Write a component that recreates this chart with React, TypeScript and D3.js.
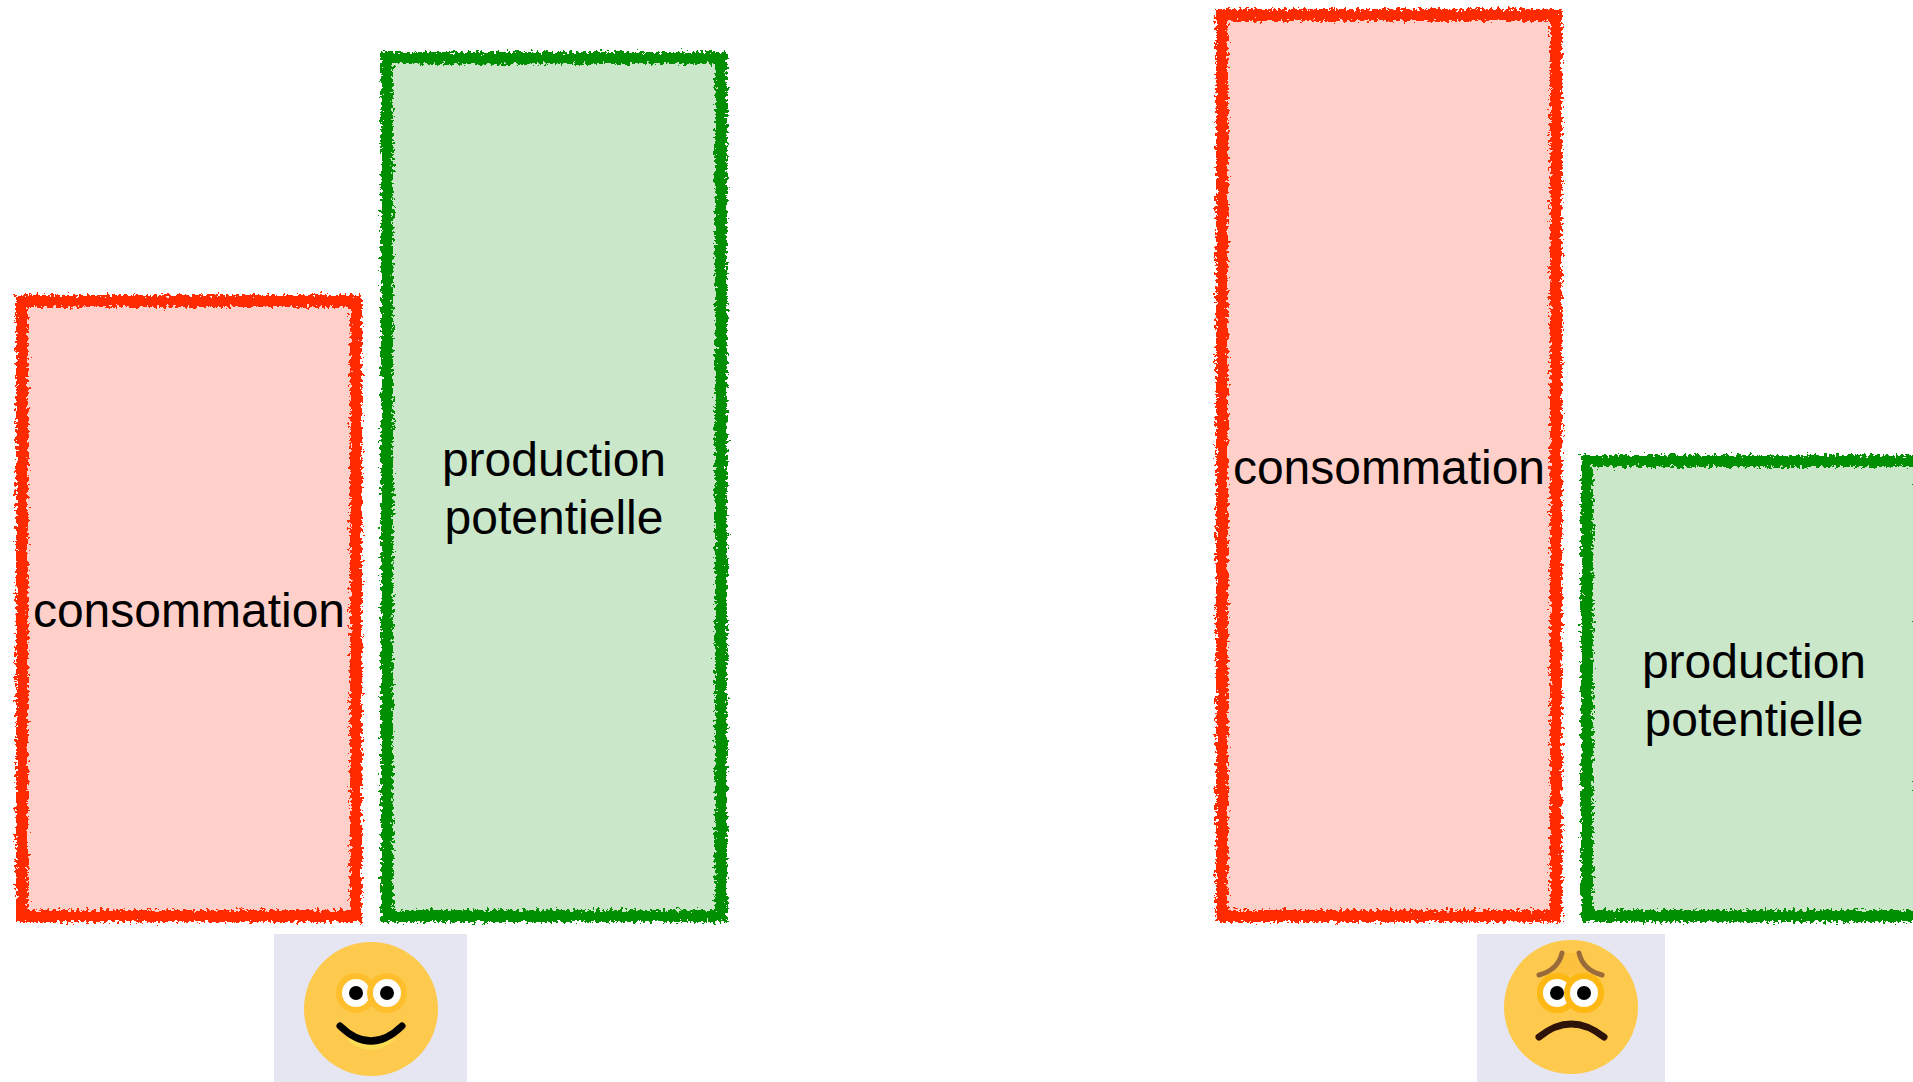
import React from 'react';
import * as d3 from 'd3';

const WIDTH = 1913;
const HEIGHT = 1082;

// the two situations and the two bars of each one
const situations = ['excédent', 'déficit'];
const seriesNames = ['consommation', 'production'];
const consommationValues = [627, 913];
const productionValues = [870, 467];
const seriesLabels = [['consommation'], ['production', 'potentielle']];

const seriesColors = {
  consommation: { stroke: '#ff2a00', fill: '#ffd0c9' },
  production: { stroke: '#008f00', fill: '#cbe7ca' },
};

const baseline = 922;
const borderWidth = 12;

const x0 = d3.scaleBand().domain(situations).range([16, 1927]).paddingInner(0.4075);
const x1 = d3.scaleBand().domain(seriesNames).range([0, x0.bandwidth()]).paddingInner(0.052);
const y = d3.scaleLinear().domain([0, 915]).range([baseline, 7]);

const bars = situations.flatMap((situation, i) => [
  { situation, series: 'consommation', value: consommationValues[i], labels: seriesLabels[0] },
  { situation, series: 'production', value: productionValues[i], labels: seriesLabels[1] },
]);

const Tile = ({ x, width }) => (
  <rect x={x} y={934} width={width} height={148} fill="#e6e6f2" />
);

const Eye = ({ cx, cy, halo }) => (
  <g>
    <circle cx={cx} cy={cy} r={20} fill={halo} />
    <circle cx={cx} cy={cy} r={14} fill="#ffffff" />
    <circle cx={cx} cy={cy} r={7} fill="#000000" />
  </g>
);

const HappyFace = () => (
  <g>
    <Tile x={274} width={193} />
    <circle cx={371} cy={1009} r={67} fill="#fdca4d" />
    <Eye cx={356} cy={993} halo="#ffbf2c" />
    <Eye cx={387} cy={993} halo="#ffbf2c" />
    <path d="M345,1038 Q371,1062 397,1038 Q371,1046 345,1038 Z" fill="#fbdc55" />
    <path d="M340,1026 Q371,1056 402,1026" fill="none" stroke="#000" strokeWidth={7} strokeLinecap="round" />
  </g>
);

const SadFace = () => (
  <g>
    <Tile x={1477} width={188} />
    <circle cx={1571} cy={1007} r={67} fill="#fdca4d" />
    <path d="M1544,975 Q1560,972 1562,953 L1580,953 Q1582,972 1598,975 Z" fill="#fbc13f" />
    <circle cx={1557} cy={993} r={20} fill="#fdb813" />
    <circle cx={1584} cy={993} r={20} fill="#fdb813" />
    <Eye cx={1557} cy={993} halo="#fdb813" />
    <Eye cx={1584} cy={993} halo="#fdb813" />
    <path d="M1539,975 Q1558,970 1562,953" fill="none" stroke="#9a6b3a" strokeWidth={5} strokeLinecap="round" />
    <path d="M1579,953 Q1583,970 1602,975" fill="none" stroke="#9a6b3a" strokeWidth={5} strokeLinecap="round" />
    <path d="M1539,1037 Q1571,1011 1604,1037" fill="none" stroke="#2e1408" strokeWidth={7} strokeLinecap="round" />
  </g>
);

export default function App() {
  return (
    <svg
      width={WIDTH}
      height={HEIGHT}
      viewBox={`0 0 ${WIDTH} ${HEIGHT}`}
      style={{ position: 'absolute', left: 0, top: 0, background: '#ffffff' }}
    >
      <defs>
        {/* chalky edge of the bar outlines */}
        <filter id="rough" x="-5%" y="-5%" width="110%" height="110%">
          <feTurbulence type="fractalNoise" baseFrequency="0.3 0.3" numOctaves="3" seed="4" result="noise" />
          <feDisplacementMap in="SourceGraphic" in2="noise" scale="10" />
        </filter>
      </defs>

      {bars.map(d => {
        const colors = seriesColors[d.series];
        const left = x0(d.situation) + x1(d.series);
        const top = y(d.value);
        const w = x1.bandwidth();
        const h = baseline - top;
        return (
          <g key={d.situation + d.series}>
            <rect x={left + 4} y={top + 4} width={w - 8} height={h - 8} fill={colors.fill} />
            <rect
              x={left + borderWidth / 2}
              y={top + borderWidth / 2}
              width={w - borderWidth}
              height={h - borderWidth}
              fill="none"
              stroke={colors.stroke}
              strokeWidth={borderWidth}
              filter="url(#rough)"
            />
            <text
              x={left + w / 2}
              y={top + h / 2}
              textAnchor="middle"
              fontFamily="'Liberation Sans', Arial, sans-serif"
              fontSize={48}
              fill="#000000"
            >
              {d.labels.map((line, i) => (
                <tspan
                  key={line}
                  x={left + w / 2}
                  dy={i === 0 ? 18 - ((d.labels.length - 1) * 58) / 2 : 58}
                >
                  {line}
                </tspan>
              ))}
            </text>
          </g>
        );
      })}

      <HappyFace />
      <SadFace />
    </svg>
  );
}
